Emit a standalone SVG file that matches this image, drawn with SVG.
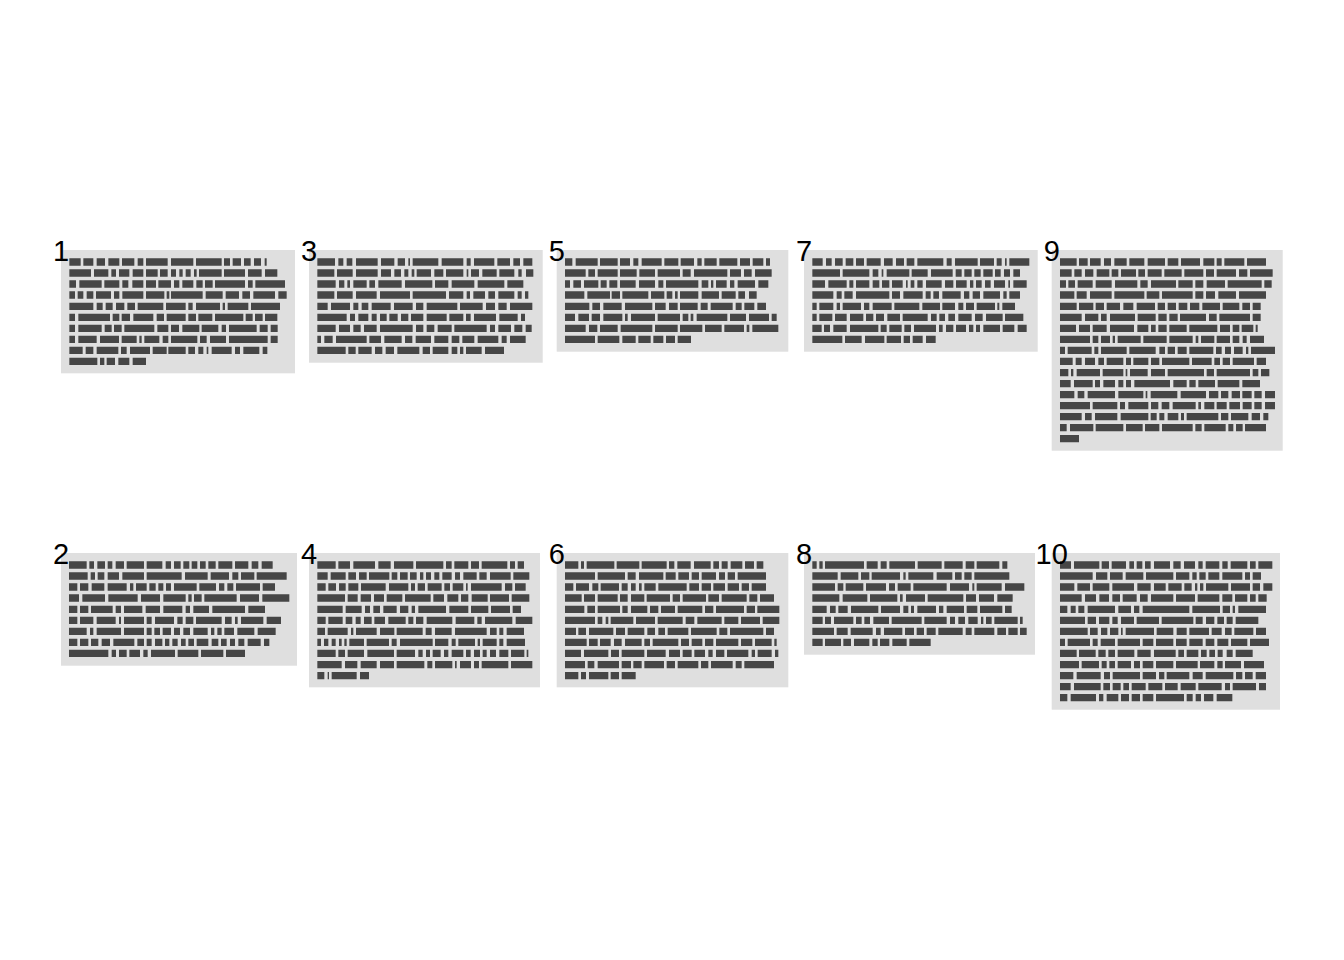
<svg xmlns="http://www.w3.org/2000/svg" width="1344" height="960" viewBox="0 0 1344 960">
<style>
.bg{fill:#ffffff}
.box{fill:#dfdfdf}
.bars{fill:none;stroke:#464646;stroke-width:22}
.num{font-family:"Liberation Sans",Arial,sans-serif;font-size:29px;fill:#000;text-anchor:middle}
</style>
<rect class="bg" x="0" y="0" width="1344" height="960"/>
<g id="node1">
<rect class="box" x="61" y="250" width="234" height="123.3"/>
<path class="bars" transform="translate(40,230) scale(0.33333)" d="M88 96H122M130 96H160M170 96H195M205 96H238M246 96H283M293 96H310M318 96H383M393 96H460M468 96H545M552 96H570M578 96H603M612 96H632M642 96H663M674 96H680
M88 129H153M162 129H205M214 129H228M237 129H268M278 129H310M318 129H353M360 129H383M393 129H408M418 129H428M437 129H452M462 129H470M477 129H545M552 129H615M624 129H665M675 129H712
M88 162H108M118 162H185M193 162H238M247 162H265M277 162H310M318 162H348M355 162H393M402 162H418M427 162H460M469 162H488M495 162H518M525 162H615M624 162H638M646 162H735
M88 195H105M113 195H130M140 195H160M168 195H213M222 195H238M247 195H310M318 195H373M380 195H388M393 195H488M497 195H548M557 195H597M607 195H630M640 195H705M715 195H740
M88 229H160M170 229H188M197 229H218M228 229H253M262 229H285M293 229H370M378 229H437M445 229H458M468 229H540M548 229H555M563 229H625M633 229H720
M88 262H105M115 262H210M218 262H238M245 262H270M280 262H340M350 262H372M380 262H437M445 262H468M475 262H517M525 262H610M617 262H638M645 262H668M675 262H712
M88 295H105M115 295H185M194 295H215M222 295H245M253 295H343M352 295H385M393 295H417M427 295H478M485 295H535M545 295H558M567 295H650M659 295H683M692 295H713
M88 328H105M115 328H170M180 328H237M245 328H290M298 328H305M313 328H358M368 328H385M393 328H472M480 328H500M510 328H558M567 328H683M692 328H713
M88 361H128M137 361H160M170 361H235M243 361H260M270 361H330M338 361H380M385 361H437M445 361H465M475 361H490M500 361H505M515 361H575M585 361H600M610 361H658M668 361H682
M88 394H172M180 394H193M200 394H225M235 394H268M278 394H318"/>
<text class="num" x="61" y="260.5">1</text>
</g>
<g id="node3">
<rect class="box" x="309" y="250" width="233.7" height="112.7"/>
<path class="bars" transform="translate(295,235) scale(0.33333)" d="M67 81H120M130 81H145M155 81H172M183 81H248M258 81H298M308 81H330M340 81H345M353 81H430M440 81H505M515 81H527M537 81H598M607 81H645M655 81H675M685 81H712
M67 114H118M126 114H173M183 114H248M258 114H288M298 114H318M328 114H340M350 114H358M365 114H408M418 114H445M453 114H505M515 114H520M528 114H552M562 114H605M613 114H658M670 114H680M693 114H715
M67 147H122M132 147H148M157 147H165M175 147H215M223 147H240M250 147H320M330 147H412M420 147H460M470 147H538M548 147H628M637 147H685
M67 180H118M126 180H173M183 180H245M255 180H345M353 180H453M462 180H505M515 180H525M535 180H570M580 180H600M610 180H658M668 180H680M690 180H700
M67 214H98M108 214H165M175 214H190M200 214H220M230 214H287M297 214H353M363 214H385M395 214H487M495 214H563M573 214H600M610 214H635M645 214H712
M67 247H155M165 247H180M190 247H220M230 247H245M255 247H275M283 247H308M318 247H340M348 247H385M395 247H455M463 247H505M513 247H527M537 247H603M613 247H668M678 247H690
M67 280H122M132 280H165M175 280H197M207 280H245M255 280H353M363 280H385M395 280H418M428 280H470M478 280H575M585 280H600M610 280H648M658 280H682M692 280H710
M67 313H78M88 313H113M123 313H215M223 313H258M268 313H320M330 313H352M362 313H408M418 313H460M470 313H493M502 313H538M548 313H610M620 313H635M645 313H692
M67 346H152M160 346H182M190 346H230M240 346H262M272 346H297M307 346H373M383 346H405M413 346H460M470 346H487M495 346H505M513 346H560M570 346H627"/>
<text class="num" x="309" y="260.5">3</text>
</g>
<g id="node5">
<rect class="box" x="556.7" y="250" width="231.6" height="101.7"/>
<path class="bars" transform="translate(545,235) scale(0.33333)" d="M60 81H82M92 81H158M165 81H218M225 81H255M265 81H280M290 81H350M358 81H400M407 81H447M457 81H470M478 81H515M523 81H577M585 81H615M623 81H655M663 81H675
M60 114H122M130 114H150M158 114H218M225 114H275M283 114H330M338 114H405M413 114H437M447 114H547M555 114H588M597 114H620M630 114H680
M60 147H75M85 147H108M117 147H160M167 147H185M193 147H217M225 147H272M282 147H330M340 147H355M363 147H460M470 147H490M498 147H505M513 147H545M555 147H568M578 147H630M640 147H670
M60 180H118M127 180H195M200 180H225M232 180H310M318 180H358M365 180H382M390 180H398M405 180H460M470 180H522M530 180H572M580 180H600M612 180H635
M60 214H133M142 214H165M175 214H230M240 214H322M330 214H362M372 214H398M405 214H458M467 214H488M497 214H563M572 214H590M598 214H628M637 214H663
M60 247H90M100 247H132M140 247H165M175 247H232M240 247H248M258 247H330M338 247H405M413 247H430M437 247H445M455 247H547M555 247H603M612 247H672M680 247H695
M60 280H122M132 280H157M165 280H218M227 280H322M330 280H398M405 280H472M480 280H530M538 280H597M605 280H613M622 280H700
M60 313H150M158 313H223M232 313H272M280 313H317M325 313H355M363 313H390M398 313H438"/>
<text class="num" x="556.7" y="260.5">5</text>
</g>
<g id="node7">
<rect class="box" x="804" y="250" width="233.7" height="101.7"/>
<path class="bars" transform="translate(790,235) scale(0.33333)" d="M67 81H98M108 81H125M135 81H158M167 81H190M198 81H222M230 81H272M282 81H308M318 81H342M350 81H373M382 81H460M470 81H485M495 81H563M570 81H612M620 81H635M645 81H650M658 81H718
M67 114H150M158 114H238M248 114H265M275 114H280M290 114H358M365 114H413M423 114H488M497 114H515M523 114H545M553 114H572M580 114H608M615 114H632M642 114H660M670 114H690
M67 147H105M115 147H170M178 147H190M198 147H238M248 147H268M276 147H298M306 147H338M348 147H353M362 147H373M382 147H398M408 147H455M465 147H490M498 147H530M540 147H550M558 147H575M585 147H602M612 147H645M655 147H660M670 147H710
M67 180H130M140 180H155M163 180H188M198 180H298M306 180H330M340 180H398M407 180H422M430 180H447M457 180H512M522 180H538M548 180H570M580 180H630M640 180H650M658 180H690
M67 214H80M88 214H130M140 214H150M158 214H213M222 214H238M248 214H305M313 214H388M397 214H450M457 214H495M505 214H520M528 214H552M560 214H615M622 214H628M637 214H675
M67 247H80M88 247H127M135 247H170M180 247H220M228 247H250M258 247H282M292 247H330M338 247H413M423 247H440M448 247H465M475 247H495M505 247H545M555 247H578M588 247H638M645 247H700
M67 280H95M102 280H120M130 280H170M180 280H265M272 280H290M298 280H335M343 280H363M372 280H438M447 280H458M468 280H490M498 280H528M537 280H550M558 280H570M580 280H630M638 280H673M683 280H710
M67 313H157M165 313H215M225 313H283M290 313H333M341 313H360M368 313H398M408 313H437"/>
<text class="num" x="804" y="260.5">7</text>
</g>
<g id="node9">
<rect class="box" x="1051.7" y="250" width="231" height="200.7"/>
<path class="bars" transform="translate(1030,230) scale(0.33333)" d="M90 96H140M147 96H173M180 96H212M222 96H243M253 96H290M298 96H343M353 96H405M413 96H445M453 96H510M520 96H553M560 96H575M583 96H643M651 96H708
M90 129H125M133 129H155M165 129H190M200 129H238M245 129H265M273 129H318M325 129H345M353 129H395M403 129H455M463 129H520M528 129H552M560 129H618M627 129H652M660 129H728
M90 162H108M115 162H135M143 162H188M197 162H245M255 162H322M331 162H353M363 162H438M445 162H488M496 162H520M530 162H585M593 162H695M703 162H725
M90 195H133M140 195H170M180 195H245M253 195H343M350 195H388M396 195H488M496 195H520M528 195H555M565 195H618M627 195H708
M90 229H140M147 229H190M197 229H222M230 229H270M280 229H310M320 229H375M383 229H405M413 229H438M446 229H472M480 229H508M517 229H570M578 229H628M637 229H660M668 229H692
M90 262H155M165 262H205M213 262H230M240 262H315M323 262H377M385 262H410M418 262H443M450 262H528M537 262H560M568 262H660M668 262H692
M90 295H138M147 295H180M188 295H230M240 295H312M322 295H355M363 295H377M385 295H410M418 295H470M478 295H562M570 295H600M608 295H628M635 295H670M677 295H683
M90 328H180M188 328H205M213 328H240M248 328H255M263 328H332M340 328H410M418 328H488M497 328H505M513 328H553M560 328H600M608 328H628M638 328H650M660 328H702
M90 361H105M113 361H185M193 361H205M213 361H290M298 361H377M388 361H405M413 361H435M443 361H470M478 361H550M558 361H575M585 361H603M612 361H638M648 361H655M663 361H735
M90 394H128M137 394H155M165 394H195M205 394H222M230 394H280M288 394H303M310 394H355M363 394H388M396 394H478M486 394H545M553 394H570M578 394H600M608 394H672M680 394H708
M90 428H115M123 428H130M140 428H210M218 428H280M287 428H292M300 428H353M363 428H405M413 428H522M530 428H552M560 428H660M668 428H685M693 428H718
M90 461H122M132 461H188M195 461H210M220 461H255M265 461H280M288 461H303M313 461H420M430 461H470M478 461H497M505 461H555M563 461H628M637 461H690
M90 494H133M143 494H163M173 494H255M265 494H340M347 494H352M362 494H442M452 494H528M537 494H565M573 494H595M605 494H630M637 494H665M673 494H695M705 494H735
M90 527H180M188 527H262M270 527H285M295 527H355M363 527H385M395 527H418M428 527H497M505 527H513M523 527H553M560 527H590M598 527H630M638 527H665M673 527H695M705 527H735
M90 560H155M165 560H185M195 560H262M272 560H355M362 560H380M388 560H403M413 560H445M453 560H462M470 560H565M573 560H595M603 560H655M665 560H690M700 560H715
M90 593H110M120 593H190M197 593H280M288 593H338M345 593H388M396 593H488M496 593H515M523 593H587M595 593H610M618 593H638M645 593H708
M90 626H147"/>
<text class="num" x="1051.7" y="260.5">9</text>
</g>
<g id="node2">
<rect class="box" x="61" y="553" width="236" height="112.7"/>
<path class="bars" transform="translate(45,538) scale(0.33333)" d="M72 81H125M133 81H147M157 81H180M188 81H202M212 81H237M245 81H297M305 81H352M362 81H378M387 81H407M415 81H433M440 81H457M465 81H482M490 81H512M520 81H562M570 81H610M620 81H640M650 81H683
M72 114H128M137 114H150M158 114H178M188 114H222M232 114H297M305 114H410M420 114H488M497 114H552M562 114H580M588 114H628M635 114H725
M72 147H97M105 147H130M140 147H178M188 147H245M255 147H265M273 147H305M313 147H332M340 147H355M363 147H378M387 147H455M463 147H513M522 147H538M547 147H565M573 147H645M653 147H690
M72 180H102M112 180H180M190 180H278M288 180H345M355 180H422M430 180H440M447 180H470M478 180H575M585 180H642M652 180H733
M72 214H97M105 214H130M138 214H203M212 214H228M237 214H292M302 214H345M355 214H412M422 214H435M445 214H492M502 214H600M610 214H660
M72 247H97M105 247H145M155 247H212M222 247H228M237 247H297M305 247H320M330 247H387M397 247H413M422 247H445M453 247H530M540 247H560M570 247H578M588 247H655M665 247H708
M72 280H125M135 280H145M155 280H228M237 280H297M305 280H320M328 280H345M353 280H378M387 280H405M415 280H435M445 280H488M498 280H508M517 280H530M538 280H567M577 280H628M638 280H692
M72 313H97M105 313H130M138 313H160M170 313H195M205 313H268M277 313H297M305 313H320M330 313H352M360 313H373M382 313H398M408 313H422M430 313H447M455 313H490M500 313H520M528 313H545M555 313H570M580 313H598M608 313H647M657 313H673
M72 346H190M200 346H213M222 346H245M253 346H285M295 346H308M318 346H390M398 346H460M468 346H535M543 346H600"/>
<text class="num" x="61" y="563.5">2</text>
</g>
<g id="node4">
<rect class="box" x="309" y="553" width="231" height="134.3"/>
<path class="bars" transform="translate(295,538) scale(0.33333)" d="M67 81H122M130 81H165M175 81H240M250 81H287M297 81H355M363 81H445M453 81H470M478 81H520M528 81H552M560 81H637M645 81H660M668 81H687
M67 114H98M107 114H152M160 114H183M192 114H215M222 114H283M290 114H307M315 114H338M345 114H365M375 114H385M393 114H408M418 114H433M442 114H470M480 114H495M505 114H545M553 114H575M585 114H647M655 114H703
M67 147H92M100 147H123M132 147H152M160 147H190M198 147H272M282 147H340M348 147H360M368 147H390M398 147H440M448 147H465M473 147H505M513 147H518M528 147H620M630 147H652M660 147H692
M67 180H150M158 180H188M197 180H228M237 180H267M275 180H322M330 180H407M415 180H447M457 180H490M498 180H520M530 180H578M585 180H642M650 180H703
M67 214H143M152 214H200M210 214H225M235 214H255M265 214H305M315 214H340M350 214H360M370 214H453M463 214H520M528 214H580M588 214H645M653 214H678
M67 247H92M100 247H143M152 247H172M182 247H197M207 247H230M238 247H270M280 247H332M340 247H355M363 247H385M395 247H472M482 247H538M547 247H560M570 247H652M662 247H712
M67 280H90M98 280H158M168 280H175M183 280H245M255 280H298M305 280H383M392 280H410M420 280H470M480 280H575M585 280H605M613 280H625M635 280H687
M67 313H78M87 313H100M110 313H122M132 313H140M148 313H155M163 313H207M215 313H282M290 313H305M315 313H413M420 313H460M470 313H482M490 313H540M548 313H555M563 313H605M613 313H625M635 313H690
M67 346H122M130 346H150M158 346H207M217 346H297M305 346H360M370 346H383M393 346H405M413 346H437M447 346H460M470 346H505M513 346H527M537 346H555M563 346H575M585 346H603M613 346H640M648 346H688M695 346H700
M67 380H140M150 380H187M197 380H245M255 380H297M305 380H388M397 380H412M420 380H472M480 380H485M495 380H528M537 380H552M560 380H640M648 380H712
M67 413H88M98 413H102M110 413H185M195 413H222"/>
<text class="num" x="309" y="563.5">4</text>
</g>
<g id="node6">
<rect class="box" x="556.7" y="553" width="231.6" height="134.3"/>
<path class="bars" transform="translate(545,538) scale(0.33333)" d="M60 81H100M108 81H117M125 81H208M215 81H283M290 81H365M372 81H388M397 81H437M447 81H497M505 81H522M530 81H548M557 81H592M600 81H627M635 81H655
M60 114H150M158 114H240M248 114H272M282 114H355M362 114H392M400 114H432M440 114H462M470 114H513M522 114H540M548 114H570M578 114H663
M60 147H85M93 147H132M142 147H160M167 147H222M230 147H248M258 147H272M282 147H290M298 147H332M340 147H425M433 147H462M470 147H498M505 147H540M548 147H582M590 147H612M620 147H663
M60 180H110M117 180H150M158 180H218M225 180H248M258 180H298M305 180H375M383 180H405M413 180H483M490 180H522M530 180H605M613 180H637M645 180H687
M60 214H118M127 214H150M158 214H225M232 214H248M258 214H307M315 214H340M348 214H390M398 214H472M480 214H505M513 214H597M605 214H630M637 214H703
M60 247H150M158 247H172M182 247H190M197 247H265M273 247H330M338 247H413M422 247H448M457 247H530M538 247H580M588 247H645M653 247H703
M60 280H93M100 280H123M132 280H205M213 280H240M248 280H298M307 280H330M340 280H360M368 280H430M438 280H515M523 280H547M555 280H655M663 280H687
M60 313H125M132 313H158M165 313H197M207 313H230M240 313H290M298 313H315M323 313H400M408 313H432M440 313H472M480 313H505M513 313H580M588 313H622M630 313H680M688 313H695
M60 346H108M117 346H190M198 346H222M230 346H298M306 346H362M372 346H405M413 346H440M448 346H480M490 346H503M513 346H538M546 346H610M620 346H630M638 346H680M690 346H700
M60 380H120M128 380H148M158 380H222M230 380H258M265 380H290M298 380H357M365 380H390M398 380H460M468 380H490M498 380H563M572 380H590M598 380H687
M60 413H100M108 413H123M132 413H190M197 413H222M230 413H272"/>
<text class="num" x="556.7" y="563.5">6</text>
</g>
<g id="node8">
<rect class="box" x="804" y="553" width="231" height="101.7"/>
<path class="bars" transform="translate(790,538) scale(0.33333)" d="M67 81H80M88 81H98M105 81H222M230 81H263M272 81H290M298 81H375M383 81H455M463 81H518M527 81H553M560 81H628M637 81H652
M67 114H143M152 114H205M213 114H238M245 114H330M340 114H347M355 114H430M440 114H487M495 114H515M523 114H545M553 114H658
M67 147H135M143 147H160M167 147H220M228 147H288M297 147H315M323 147H362M370 147H470M480 147H537M547 147H553M560 147H635M645 147H703
M67 180H148M158 180H232M240 180H322M330 180H338M348 180H405M413 180H520M528 180H558M567 180H612M622 180H668
M67 214H110M120 214H137M145 214H173M183 214H265M273 214H330M340 214H355M363 214H372M382 214H438M447 214H460M470 214H522M530 214H562M570 214H637M645 214H665
M67 247H98M105 247H123M132 247H190M198 247H215M223 247H240M250 247H297M305 247H395M403 247H470M480 247H495M505 247H525M535 247H563M573 247H580M588 247H605M613 247H683M690 247H698
M67 280H132M140 280H173M182 280H248M258 280H272M282 280H337M345 280H372M380 280H402M410 280H437M445 280H518M527 280H545M553 280H613M622 280H648M655 280H683M690 280H710
M67 313H98M105 313H153M160 313H183M192 313H238M247 313H263M270 313H298M307 313H350M358 313H422"/>
<text class="num" x="804" y="563.5">8</text>
</g>
<g id="node10">
<rect class="box" x="1051.7" y="553" width="228.3" height="156.7"/>
<path class="bars" transform="translate(1030,538) scale(0.33333)" d="M90 81H123M132 81H208M215 81H237M245 81H288M298 81H312M320 81H337M345 81H362M372 81H420M430 81H452M462 81H495M505 81H518M527 81H568M577 81H593M602 81H652M660 81H677M685 81H727
M90 114H188M198 114H232M240 114H278M287 114H340M348 114H430M438 114H478M487 114H500M508 114H527M535 114H568M577 114H637M645 114H660M668 114H693
M90 147H133M142 147H180M188 147H238M247 147H312M322 147H362M372 147H407M415 147H455M463 147H485M495 147H502M510 147H520M528 147H595M603 147H660M668 147H690M700 147H727
M90 180H155M165 180H198M208 180H237M247 180H270M278 180H320M330 180H353M363 180H430M438 180H495M503 180H568M577 180H607M615 180H652M660 180H677M685 180H710
M90 214H112M122 214H137M145 214H163M173 214H255M265 214H303M312 214H328M338 214H478M487 214H570M578 214H600M608 214H615M625 214H708
M90 247H165M173 247H198M207 247H238M247 247H263M273 247H312M320 247H387M395 247H490M497 247H518M528 247H553M562 247H582M590 247H608M617 247H685
M90 280H173M180 280H203M213 280H232M240 280H265M273 280H278M287 280H372M380 280H430M440 280H470M478 280H537M545 280H575M585 280H605M613 280H670M678 280H708
M90 313H105M113 313H180M188 313H203M212 313H255M263 313H330M338 313H370M378 313H430M438 313H470M478 313H518M527 313H553M562 313H595M603 313H652M660 313H717
M90 346H140M147 346H197M205 346H227M235 346H255M263 346H313M322 346H362M372 346H437M445 346H462M470 346H505M513 346H530M538 346H555M563 346H578M590 346H608M617 346H668
M90 380H147M155 380H207M215 380H230M238 380H255M263 380H303M312 380H330M338 380H370M378 380H430M438 380H503M510 380H553M562 380H578M585 380H633M642 380H702
M90 413H130M140 413H212M222 413H240M248 413H330M338 413H378M387 413H403M410 413H478M488 413H518M527 413H610M618 413H637M645 413H668M677 413H708
M90 446H122M132 446H212M220 446H240M248 446H272M280 446H297M305 446H347M355 446H397M405 446H443M452 446H497M505 446H575M585 446H600M608 446H678M687 446H708
M90 479H112M122 479H198M207 479H220M230 479H265M273 479H297M305 479H330M338 479H370M378 479H462M470 479H488M497 479H513M522 479H550M560 479H607"/>
<text class="num" x="1051.7" y="563.5">10</text>
</g>
<g id="connectors"></g>
</svg>
